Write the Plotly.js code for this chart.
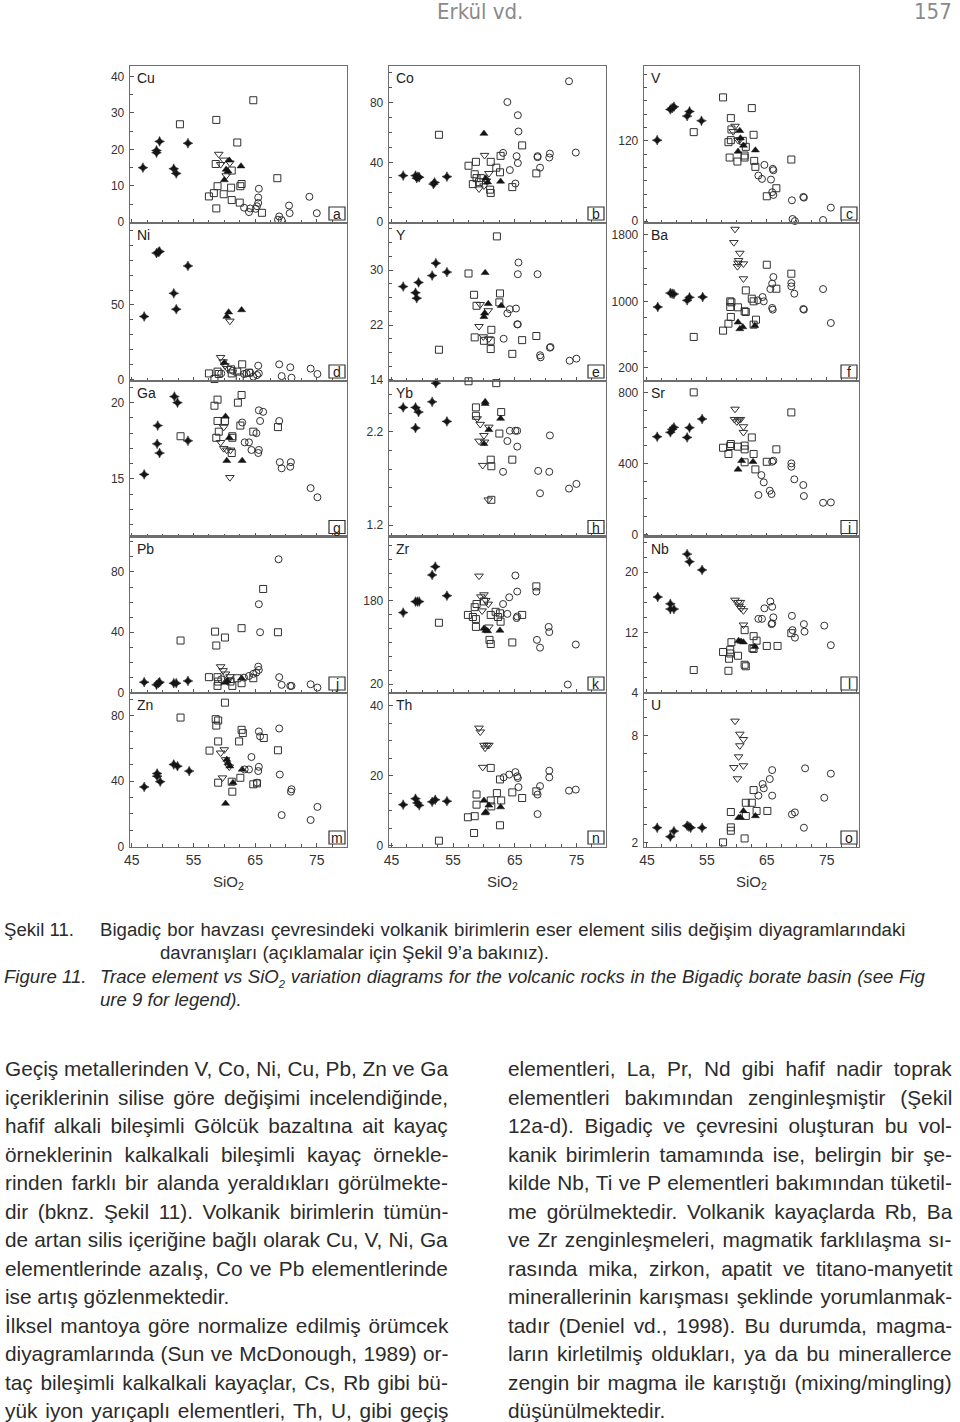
<!DOCTYPE html>
<html><head><meta charset="utf-8">
<script src="https://cdn.plot.ly/plotly-3.0.1.min.js"></script>
<style>
body{margin:0;background:#fff;}
#page{position:relative;width:960px;height:1422px;overflow:hidden;background:#fff;}
#chart{position:absolute;left:0;top:0;width:960px;height:910px;}
.t{position:absolute;white-space:nowrap;font-family:"Liberation Sans",Arial,sans-serif;color:#2b2b2b;}
.body{font-size:18px;line-height:28px;height:28px;}
.cap{font-size:16px;line-height:22px;height:22px;}
.cap sub{font-size:0.6em;line-height:0;}
.hdr{font-family:"Liberation Sans Narrow","DejaVu Sans Condensed",sans-serif;font-size:22px;color:#8a8a8a;line-height:22px;height:22px;}
</style></head>
<body>
<div id="page">
<div id="chart"></div>
</div>
<script>
// ---------------- DATA (SiO2, element) ----------------
const Cu_dia=[[46.8,15.0],[49.0,19.7],[49.0,19.1],[49.5,22.2],[51.8,14.7],[52.2,13.4],[54.1,21.7]];
const Cu_sq=[[52.8,26.9],[58.7,28.1],[64.7,33.5],[62.1,21.9],[58.6,16.0],[58.9,9.9],[58.3,8.0],[57.5,7.1],[58.7,3.8],[59.9,7.7],[61.1,9.5],[61.2,6.1],[61.2,14.2],[62.5,5.4],[62.8,10.5],[62.6,9.9],[66.1,2.6],[68.6,12.1]];
const Cu_tdn=[[59.1,18.7],[59.4,15.9],[59.9,17.1],[60.3,12.8],[60.9,16.3]];
const Cu_tup=[[60.8,17.0],[60.3,14.5],[60.6,14.0],[60.0,11.6],[62.7,15.4]];
const Cu_cir=[[63.2,4.0],[64.0,2.8],[64.2,3.8],[65.1,3.7],[65.3,4.4],[65.5,5.3],[65.5,6.8],[65.6,9.2],[68.9,1.6],[68.7,0.7],[69.3,0.6],[70.5,4.6],[70.6,2.5],[73.8,7.0],[75.0,2.5]];

const Co_dia=[[46.9,31.2],[48.9,31.2],[49.1,29.5],[49.3,30.5],[49.5,30.1],[51.8,25.5],[52.0,26.6],[54.0,30.5]];
const Co_sq=[[52.7,58.5],[57.5,37.8],[58.7,40.4],[58.5,32.1],[58.2,25.5],[58.8,29.5],[59.2,26.8],[59.5,29.5],[61.1,40.4],[61.0,21.8],[61.1,19.6],[62.0,36.5],[62.6,33.4],[62.7,44.4],[64.6,23.5],[66.2,51.4],[68.5,32.7]];
const Co_tdn=[[60.1,44.8],[60.8,32.7],[59.2,22.4],[60.0,24.4],[60.4,27.7]];
const Co_tup=[[60.0,59.3],[62.7,27.3],[60.3,29.5],[60.6,26.8]];
const Co_cir=[[63.8,80.4],[65.5,71.6],[65.6,60.7],[63.1,46.4],[65.3,44.2],[65.5,39.6],[64.2,34.9],[65.1,25.9],[68.7,44.2],[68.7,43.5],[69.1,36.5],[70.7,45.9],[70.6,43.3],[73.8,94.3],[74.9,46.6]];

const V_dia=[[46.7,121],[48.9,167],[49.2,169],[49.5,171],[51.7,157],[52.1,164],[54.1,150]];
const V_sq=[[57.7,185],[52.8,133],[59.0,154],[59.1,137],[62.5,169],[62.8,129],[58.6,118],[59.0,121],[58.8,95],[60.1,89],[61.3,98],[61.3,95],[61.5,111],[62.9,90],[63.1,81],[66.6,49],[65.0,37],[69.1,92],[61.0,120]];
const V_tdn=[[59.7,142],[59.4,134],[60.5,122],[60.2,121]];
const V_tup=[[60.5,135],[60.2,104],[61.1,113],[63.1,106],[60.6,124]];
const V_cir=[[64.6,84],[66.0,78],[66.1,76],[63.6,68],[64.2,63],[65.7,62],[65.9,43],[66.1,39],[69.2,31],[71.1,36],[71.2,35],[69.3,3],[69.7,0],[74.4,1.5],[75.7,20]];

const Ni_dia=[[47.0,42.2],[49.0,84.8],[49.3,85.4],[49.5,85.9],[51.8,57.8],[52.2,47.1],[54.1,76.2]];
const Ni_sq=[[57.5,4.0],[58.4,0.2],[58.9,5.2],[59.1,3.6],[61.1,6.7],[61.2,4.0],[62.1,5.2],[62.9,10.1],[62.5,1.3],[64.0,4.5]];
const Ni_tdn=[[60.9,39.2],[59.4,14.8],[59.8,11.9],[60.1,9.2],[60.5,7.4]];
const Ni_tup=[[60.7,45.1],[62.8,46.6],[60.4,42.2],[60.0,11.2]];
const Ni_cir=[[59.5,4.0],[61.4,5.8],[63.2,3.6],[63.6,4.0],[64.2,4.5],[64.7,1.8],[65.3,2.9],[65.6,4.0],[65.5,9.2],[68.9,10.1],[69.3,2.2],[70.7,8.1],[70.9,1.1],[74.0,7.2],[75.1,3.6]];

const Y_dia=[[46.9,27.6],[48.9,26.7],[49.1,25.9],[49.4,28.2],[51.6,29.2],[52.2,31.0],[54.0,29.7]];
const Y_sq=[[62.1,34.9],[57.5,29.5],[58.4,26.4],[58.8,24.8],[62.6,26.6],[62.5,25.3],[61.2,21.3],[58.5,20.2],[60.0,19.7],[61.1,19.7],[61.1,18.5],[66.2,19.8],[64.6,17.8],[68.5,20.4],[52.7,18.4]];
const Y_tdn=[[59.4,25.0],[60.7,24.1],[59.2,21.8],[59.9,20.3],[60.8,20.0]];
const Y_tup=[[60.2,29.6],[60.7,25.1],[62.8,24.8],[60.0,23.2],[60.1,23.7]];
const Y_cir=[[65.6,31.1],[65.5,29.4],[68.7,29.4],[64.2,24.3],[63.8,23.7],[65.2,24.4],[65.4,22.1],[65.5,22.1],[63.2,20.0],[69.1,17.6],[69.2,17.3],[70.7,18.7],[70.8,18.8],[73.9,16.8],[75.0,17.1]];

const Ba_dia=[[46.8,932],[48.9,1100],[49.2,1092],[49.5,1088],[51.7,1012],[52.1,1048],[54.3,1052]];
const Ba_sq=[[65.0,1441],[69.1,1333],[61.5,1132],[66.6,1152],[58.9,1000],[59.1,988],[60.2,928],[58.9,932],[61.3,880],[61.5,872],[59.0,812],[58.6,731],[57.7,647],[52.8,571],[63.2,779],[62.8,719],[62.5,1032],[62.8,1000]];
const Ba_tdn=[[59.7,1870],[59.5,1710],[60.5,1581],[60.3,1493],[60.2,1461],[61.1,1453],[60.1,1421],[61.1,1273]];
const Ba_tup=[[60.2,747],[60.5,667],[61.0,691],[63.0,707]];
const Ba_cir=[[66.1,1293],[65.9,1213],[65.6,1148],[64.3,1052],[64.5,1000],[63.5,1012],[65.9,920],[66.0,900],[69.1,1221],[69.1,1180],[69.6,1092],[71.1,908],[71.2,900],[74.4,1148],[75.7,739]];

const Ga_dia=[[51.9,20.4],[52.4,20.0],[49.2,18.5],[49.1,17.3],[49.5,16.7],[54.1,17.5],[47.0,15.3]];
const Ga_sq=[[52.9,17.8],[58.9,20.2],[58.4,19.8],[58.9,18.8],[60.1,18.8],[59.1,18.1],[58.7,17.7],[61.3,17.8],[61.3,17.7],[61.2,16.7],[62.2,20.0],[62.8,20.5],[62.6,18.5],[64.7,18.1],[68.7,18.4]];
const Ga_tdn=[[59.9,18.4],[59.4,17.4],[59.9,17.0],[60.4,16.9],[61.0,16.9],[60.9,15.1]];
const Ga_tup=[[60.2,19.1],[60.8,17.7],[60.4,16.2],[62.9,16.2]];
const Ga_cir=[[62.9,18.7],[63.3,17.4],[64.0,17.4],[64.4,16.9],[65.2,18.0],[65.6,19.5],[66.3,19.4],[65.8,18.8],[65.6,16.9],[65.5,16.7],[68.9,18.8],[69.0,16.1],[69.3,15.7],[70.8,16.1],[70.7,15.8],[74.0,14.4],[75.1,13.8]];

const Yb_dia=[[46.9,2.46],[48.9,2.46],[49.4,2.41],[48.9,2.24],[51.6,2.52],[52.2,2.72],[54.0,2.31]];
const Yb_sq=[[57.5,2.74],[58.7,2.46],[58.7,2.37],[62.0,2.72],[62.8,2.41],[62.5,2.18],[61.1,1.90],[61.2,1.83],[64.6,1.90],[61.2,1.47]];
const Yb_tdn=[[58.9,2.34],[59.4,2.28],[60.8,2.25],[60.0,2.16],[59.2,2.10],[59.8,1.84],[60.1,2.09],[60.7,1.47]];
const Yb_tup=[[60.2,2.52],[60.2,2.50],[62.7,2.34],[60.8,2.22],[60.0,2.07]];
const Yb_cir=[[64.2,2.21],[65.1,2.21],[65.4,2.21],[63.8,2.10],[65.4,2.04],[63.1,1.77],[68.8,1.78],[70.6,1.77],[70.7,2.16],[69.1,1.54],[73.8,1.59],[75.0,1.64]];

const Sr_dia=[[46.7,550],[48.9,575],[49.2,592],[49.5,603],[51.7,546],[52.1,601],[54.2,650]];
const Sr_sq=[[52.8,800],[69.1,687],[57.7,488],[58.6,453],[58.9,498],[59.0,509],[60.2,494],[61.3,500],[61.3,479],[62.5,546],[62.8,453],[63.1,366],[66.6,479],[61.3,406],[65.0,409]];
const Sr_tdn=[[59.7,706],[59.6,648],[60.0,635],[60.3,644],[60.6,648],[61.1,607],[61.1,575]];
const Sr_tup=[[60.8,415],[60.2,366],[62.7,409]];
const Sr_cir=[[65.9,409],[66.1,415],[64.1,334],[64.5,293],[63.6,222],[65.5,246],[65.8,227],[69.1,400],[69.1,381],[69.6,310],[71.1,278],[71.2,216],[74.4,178],[75.7,180]];

const Pb_dia=[[47.0,6.9],[49.0,5.1],[49.3,6.2],[49.5,6.9],[51.8,6.2],[52.2,6.2],[54.1,7.7]];
const Pb_sq=[[52.9,34.5],[58.5,40.4],[58.7,31.2],[60.1,36.5],[62.8,42.7],[66.3,68.7],[68.7,40.0],[57.5,10.2],[58.9,10.2],[58.9,4.4],[59.0,7.3],[61.0,7.3],[61.3,4.4],[62.1,9.5],[62.8,6.2],[64.7,9.5]];
const Pb_tdn=[[59.4,17.2],[59.8,14.6],[60.2,12.4],[60.9,10.6],[60.7,8.4]];
const Pb_tup=[[60.5,7.7],[60.1,6.6],[62.8,9.5]];
const Pb_cir=[[59.5,8.8],[63.2,9.9],[64.0,11.0],[64.7,12.4],[65.2,13.3],[65.5,17.2],[65.6,15.0],[65.6,58.6],[65.8,40.0],[68.8,88.4],[68.9,10.2],[69.3,5.1],[70.7,4.4],[70.9,4.4],[74.0,5.5],[75.1,3.3]];

const Zr_dia=[[46.9,157.5],[48.9,178.7],[49.2,178.7],[49.5,178.7],[51.6,230],[52.1,246],[54.0,190]];
const Zr_sq=[[52.7,138],[57.4,153],[58.2,149],[58.7,145],[58.7,130],[58.5,168],[58.8,174],[60.0,179],[61.1,153],[61.9,159],[62.6,156],[62.7,140],[60.9,105],[61.1,97],[64.6,100],[66.2,153],[68.5,208],[62.3,149]];
const Zr_tdn=[[59.2,228],[59.5,188],[60.0,192],[60.7,174],[59.7,161],[60.8,130],[60.3,181]];
const Zr_tup=[[60.0,127],[60.3,123],[60.6,122],[62.6,123]];
const Zr_cir=[[65.1,229],[65.4,198],[64.1,187],[63.1,174],[63.8,155],[65.3,147],[65.4,150],[68.5,198],[70.5,130],[70.6,120],[68.6,105],[69.1,90],[74.9,96],[73.6,19]];

const Nb_dia=[[46.8,16.7],[48.9,15.8],[48.9,15.1],[49.5,15.1],[51.7,22.4],[52.1,21.4],[54.2,20.3]];
const Nb_sq=[[61.3,12.3],[62.8,11.5],[63.3,10.9],[62.6,9.9],[62.8,9.8],[59.1,10.7],[57.7,9.4],[58.9,9.7],[58.9,9.2],[58.7,8.5],[60.2,8.9],[61.3,7.7],[61.5,7.5],[58.6,6.9],[52.8,7.0],[65.0,10.2],[66.8,10.2],[69.1,11.9]];
const Nb_tdn=[[59.7,16.3],[60.2,16.0],[60.6,16.0],[60.4,15.5],[60.7,15.2],[61.1,14.9],[61.1,13.0]];
const Nb_tup=[[60.3,10.9],[60.7,10.8],[61.1,10.7],[63.0,10.1]];
const Nb_cir=[[65.6,16.1],[65.9,15.4],[64.6,15.2],[63.6,13.8],[64.2,13.8],[66.1,14.0],[65.9,13.2],[65.8,13.1],[69.2,14.2],[69.3,12.3],[69.7,11.3],[71.2,13.1],[71.3,12.1],[74.6,12.9],[75.7,10.3]];

const Zn_dia=[[47.0,36.4],[49.1,44.6],[49.1,43.0],[49.6,39.6],[51.8,50.1],[52.4,49.1],[54.3,46.1]];
const Zn_sq=[[52.9,78.8],[60.1,87.9],[58.6,77.8],[58.7,73.9],[59.0,77.0],[59.0,64.2],[57.6,58.6],[62.4,64.2],[62.8,71.3],[63.0,69.3],[66.4,66.3],[68.7,58.8],[59.0,39.0],[61.2,39.6],[61.3,33.5],[62.6,42.0],[64.7,38.0],[65.3,38.6]];
const Zn_tdn=[[59.4,57.2],[60.0,59.2],[59.7,42.0],[60.2,53.1],[60.8,48.7]];
const Zn_tup=[[60.4,53.1],[60.6,51.1],[60.9,49.1],[62.9,47.1],[60.2,26.3],[61.4,39.0]];
const Zn_cir=[[63.3,47.1],[64.0,47.1],[64.4,54.7],[65.6,70.3],[65.8,67.3],[65.6,48.7],[65.5,46.1],[65.3,39.0],[68.9,72.1],[69.0,44.0],[69.3,19.2],[70.9,35.0],[70.8,33.5],[74.0,16.2],[75.1,24.2]];

const Th_dia=[[46.9,11.7],[48.9,13.4],[49.2,12.2],[49.5,11.5],[51.6,12.5],[52.1,13.1],[54.0,12.7]];
const Th_sq=[[52.7,1.4],[58.4,3.6],[57.4,8.1],[58.5,8.4],[58.8,14.6],[58.8,11.7],[61.1,22.2],[61.1,12.9],[61.2,11.2],[62.1,15.0],[62.6,18.9],[62.8,12.9],[62.6,5.8],[64.6,15.2],[66.2,13.6],[68.5,15.5]];
const Th_tdn=[[59.2,33.6],[59.4,32.5],[60.0,28.7],[60.2,27.9],[60.5,28.7],[60.8,28.7],[59.8,22.4]];
const Th_tup=[[60.0,12.9],[60.3,9.6],[60.8,11.5],[62.7,11.0],[60.2,9.3]];
const Th_cir=[[63.2,19.5],[64.1,20.3],[65.1,21.0],[65.4,19.8],[65.5,19.3],[65.6,16.7],[69.1,17.0],[68.7,14.6],[68.7,9.0],[70.6,21.4],[70.6,19.5],[73.8,15.7],[74.9,16.0]];

const U_dia=[[46.7,2.84],[48.9,2.34],[49.5,2.65],[51.7,2.95],[52.0,2.90],[52.3,2.84],[54.2,2.84]];
const U_sq=[[57.7,2.02],[59.0,2.67],[59.0,2.86],[59.0,3.72],[61.5,4.24],[62.5,4.24],[62.8,4.95],[63.3,3.78],[61.5,3.50],[65.1,3.78],[61.3,2.24]];
const U_tdn=[[59.7,8.82],[60.5,8.09],[61.1,7.79],[60.5,7.44],[60.3,6.82],[59.5,6.22],[61.1,6.32],[60.1,5.59]];
const U_tup=[[60.3,3.40],[60.6,3.42],[61.1,3.78],[63.1,3.50]];
const U_cir=[[63.6,4.64],[64.3,5.29],[64.5,5.05],[65.5,5.57],[65.9,6.07],[65.9,4.64],[69.2,3.59],[69.7,3.70],[71.2,2.84],[71.4,6.17],[74.6,4.52],[75.7,5.87]];

const SIO2_TICKS=[45,55,65,75];
// name, letter, groups, y tick labels, minor step
const PANELS=[
 ['Cu','a',[Cu_dia,Cu_sq,Cu_tdn,Cu_tup,Cu_cir],[0,10,20,30,40],5],
 ['Co','b',[Co_dia,Co_sq,Co_tdn,Co_tup,Co_cir],[0,40,80],10],
 ['V','c',[V_dia,V_sq,V_tdn,V_tup,V_cir],[0,120],20],
 ['Ni','d',[Ni_dia,Ni_sq,Ni_tdn,Ni_tup,Ni_cir],[0,50],10],
 ['Y','e',[Y_dia,Y_sq,Y_tdn,Y_tup,Y_cir],[14,22,30],2],
 ['Ba','f',[Ba_dia,Ba_sq,Ba_tdn,Ba_tup,Ba_cir],[200,1000,1800],200],
 ['Ga','g',[Ga_dia,Ga_sq,Ga_tdn,Ga_tup,Ga_cir],[15,20],1],
 ['Yb','h',[Yb_dia,Yb_sq,Yb_tdn,Yb_tup,Yb_cir],[1.2,2.2],0.2],
 ['Sr','i',[Sr_dia,Sr_sq,Sr_tdn,Sr_tup,Sr_cir],[0,400,800],100],
 ['Pb','j',[Pb_dia,Pb_sq,Pb_tdn,Pb_tup,Pb_cir],[0,40,80],10],
 ['Zr','k',[Zr_dia,Zr_sq,Zr_tdn,Zr_tup,Zr_cir],[20,180],160/6],
 ['Nb','l',[Nb_dia,Nb_sq,Nb_tdn,Nb_tup,Nb_cir],[4,12,20],2],
 ['Zn','m',[Zn_dia,Zn_sq,Zn_tdn,Zn_tup,Zn_cir],[0,40,80],10],
 ['Th','n',[Th_dia,Th_sq,Th_tdn,Th_tup,Th_cir],[0,20,40],5],
 ['U','o',[U_dia,U_sq,U_tdn,U_tup,U_cir],[2,8],1]
];
// y axis ranges (axis extents)
const YRANGES=[[-0.2,42.9],[-0.5,104.5],[-3,232],[-1.1,105],[13.85,36.85],[40,1944],[11.23,21.42],[1.077,2.743],[-12,864],[-0.3,103.5],[2.7,304],[3.95,24.74],[-0.3,93.8],[-0.4,43.6],[1.76,10.39]];

const LEFT_TEXT=[
"Geçiş metallerinden V, Co, Ni, Cu, Pb, Zn ve Ga",
"içeriklerinin silise göre değişimi incelendiğinde,",
"hafif alkali bileşimli Gölcük bazaltına ait kayaç",
"örneklerinin kalkalkali bileşimli kayaç örnekle-",
"rinden farklı bir alanda yeraldıkları görülmekte-",
"dir (bknz. Şekil 11). Volkanik birimlerin tümün-",
"de artan silis içeriğine bağlı olarak Cu, V, Ni, Ga",
"elementlerinde azalış, Co ve Pb elementlerinde",
"ise artış gözlenmektedir.",
"İlksel mantoya göre normalize edilmiş örümcek",
"diyagramlarında (Sun ve McDonough, 1989) or-",
"taç bileşimli kalkalkali kayaçlar, Cs, Rb gibi bü-",
"yük iyon yarıçaplı elementleri, Th, U, gibi geçiş"];
const RIGHT_TEXT=[
"elementleri, La, Pr, Nd gibi hafif nadir toprak",
"elementleri bakımından zenginleşmiştir (Şekil",
"12a-d). Bigadiç ve çevresini oluşturan bu vol-",
"kanik birimlerin tamamında ise, belirgin bir şe-",
"kilde Nb, Ti ve P elementleri bakımından tüketil-",
"me görülmektedir. Volkanik kayaçlarda Rb, Ba",
"ve Zr zenginleşmeleri, magmatik farklılaşma sı-",
"rasında mika, zirkon, apatit ve titano-manyetit",
"minerallerinin karışması şeklinde yorumlanmak-",
"tadır (Deniel vd., 1998). Bu durumda, magma-",
"ların kirletilmiş oldukları, ya da bu minerallerce",
"zengin bir magma ile karıştığı (mixing/mingling)",
"düşünülmektedir."];

// ---------------- LAYOUT GEOMETRY ----------------
const W=960,H=910;
const COL_X=[[130,347],[389,606],[644,859]];
const COL_R=[[44.7,79.9],[44.6,79.8],[44.5,80.4]];
const ROW_Y=[[66,223],[223,381],[381,536.5],[536.5,693],[693,847]];
const STY=[
 {symbol:'star-diamond',size:7,color:'#151515',lw:0.5},
 {symbol:'square-open',size:7,color:'#303030',lw:1},
 {symbol:'triangle-down-open',size:7.5,color:'#303030',lw:1},
 {symbol:'triangle-up',size:7,color:'#151515',lw:0.5},
 {symbol:'circle-open',size:7,color:'#303030',lw:1}
];
function minorVals(r,t0,step,majors){
  const out=[];const eps=step*1e-3;
  let k=Math.ceil((r[0]-t0)/step-1e-9);
  for(let v=t0+k*step; v<=r[1]+eps; v=t0+(++k)*step){
    if(!majors.some(m=>Math.abs(m-v)<eps)) out.push(+v.toFixed(6));
  }
  return out;
}
const traces=[],layout={width:W,height:H,margin:{l:0,r:0,t:0,b:0},paper_bgcolor:'rgba(0,0,0,0)',plot_bgcolor:'#fff',
  showlegend:false,font:{family:'Liberation Sans, Arial, sans-serif',size:12,color:'#333'},annotations:[],shapes:[]};
const LINE='#6e6e6e',TICK='#555';
PANELS.forEach((p,i)=>{
  const row=Math.floor(i/3),col=i%3;
  const sfx=i===0?'':String(i+1);
  const [xl,xr]=COL_X[col],[yt,yb]=ROW_Y[row];
  const xr_=COL_R[col],yr=YRANGES[i];
  layout['xaxis'+sfx]={domain:[xl/W,xr/W],range:xr_,anchor:'y'+sfx,showline:true,mirror:true,linecolor:LINE,linewidth:1.3,
    showgrid:false,zeroline:false,ticks:'inside',ticklen:4,tickcolor:TICK,tickwidth:1,tickmode:'array',tickvals:SIO2_TICKS,
    showticklabels:row===4,tickfont:{size:14,color:'#333'},
    minor:{tickmode:'array',tickvals:minorVals(xr_,45,2.5,SIO2_TICKS),ticks:'inside',ticklen:3,tickcolor:TICK,tickwidth:1,showgrid:false},fixedrange:true};
  layout['yaxis'+sfx]={domain:[1-yb/H,1-yt/H],range:yr,anchor:'x'+sfx,showline:true,mirror:true,linecolor:LINE,linewidth:1.3,
    showgrid:false,zeroline:false,ticks:'inside',ticklen:4,tickcolor:TICK,tickwidth:1,tickmode:'array',tickvals:p[3],
    tickfont:{size:12,color:'#333'},ticklabelstandoff:2,
    minor:{tickmode:'array',tickvals:minorVals(yr,p[3][0],p[4],p[3]),ticks:'inside',ticklen:3,tickcolor:TICK,tickwidth:1,showgrid:false},fixedrange:true};
  p[2].forEach((g,k)=>{
    const s=STY[k];
    traces.push({type:'scatter',mode:'markers',xaxis:'x'+sfx,yaxis:'y'+sfx,x:g.map(d=>d[0]),y:g.map(d=>d[1]),cliponaxis:false,
      marker:{symbol:s.symbol,size:s.size,color:s.color,line:{width:s.lw,color:s.color}},hoverinfo:'skip'});
  });
  layout.annotations.push({xref:'paper',yref:'paper',x:(xl+5)/W,y:1-(yt+2)/H,xanchor:'left',yanchor:'top',showarrow:false,
    text:p[0],font:{size:14,color:'#222'}});
  const bx1=xr-2,bx0=bx1-16,by1=yb-3,by0=by1-13;
  layout.shapes.push({type:'rect',xref:'paper',yref:'paper',x0:bx0/W,x1:bx1/W,y0:1-by1/H,y1:1-by0/H,line:{color:'#333',width:1.2},fillcolor:'#fff',layer:'above'});
  layout.annotations.push({xref:'paper',yref:'paper',x:(bx0+bx1)/2/W,y:1-((by0+by1)/2+0.5)/H,xanchor:'center',yanchor:'middle',showarrow:false,
    text:p[1],font:{size:14,color:'#222'}});
});
[228,502,751].forEach(cx=>{
  layout.annotations.push({xref:'paper',yref:'paper',x:cx/W,y:1-882/H,xanchor:'center',yanchor:'middle',showarrow:false,
    text:'SiO<sub>2</sub>',font:{size:15,color:'#333'}});
});
Plotly.newPlot('chart',traces,layout,{staticPlot:true,displayModeBar:false});

// ---------------- PAGE TEXT ----------------
const page=document.getElementById('page');
function addLine(html,cls,left,yc,lh,target,align){
  const d=document.createElement('div');
  d.className='t '+cls;d.innerHTML=html;
  d.style.top=Math.max(0,yc-lh/2)+'px';
  page.appendChild(d);
  return {d,left,target,align};
}
function fitGroup(items,baseSize,fill){
  const just=items.filter(it=>it.target);
  let ratio=0;
  just.forEach(it=>{ratio+=it.target/it.d.offsetWidth;});
  ratio=ratio/just.length;
  const fs=baseSize*ratio*fill;
  items.forEach(it=>{it.d.style.fontSize=fs+'px';});
  place(items);
}
function place(items){
  items.forEach(it=>{
    const w=it.d.offsetWidth;
    if(it.align==='right') it.d.style.left=(it.left-w)+'px';
    else if(it.align==='center') it.d.style.left=(it.left-w/2)+'px';
    else it.d.style.left=it.left+'px';
    if(it.target){
      const n=(it.d.textContent.match(/ /g)||[]).length;
      if(n>0) it.d.style.wordSpacing=((it.target-w)/n)+'px';
    }
  });
}
place([addLine('Erkül vd.','hdr',480,12,22,null,'center'),addLine('157','hdr',952,12,22,null,'right')]);
const cap=[
 addLine('Şekil 11.','cap',4,930,22,null),
 addLine('Bigadiç bor havzası çevresindeki volkanik birimlerin eser element silis değişim diyagramlarındaki','cap',100,930,22,805),
 addLine('davranışları (açıklamalar için Şekil 9’a bakınız).','cap',160,953,22,null),
 addLine('<i>Figure 11.</i>','cap',4,977,22,null),
 addLine('<i>Trace element vs SiO<sub>2</sub> variation diagrams for the volcanic rocks in the Bigadiç borate basin (see Fig</i>','cap',100,977,22,825),
 addLine('<i>ure 9 for legend).</i>','cap',100,1000,22,null)];
fitGroup(cap,16,0.99);
const body=[];
LEFT_TEXT.forEach((s,i)=>body.push(addLine(s,'body',5,1069+28.5*i,28,i===8?null:443)));
RIGHT_TEXT.forEach((s,i)=>body.push(addLine(s,'body',508,1069+28.5*i,28,i===12?null:444)));
fitGroup(body,18,0.965);
</script>
</body></html>
